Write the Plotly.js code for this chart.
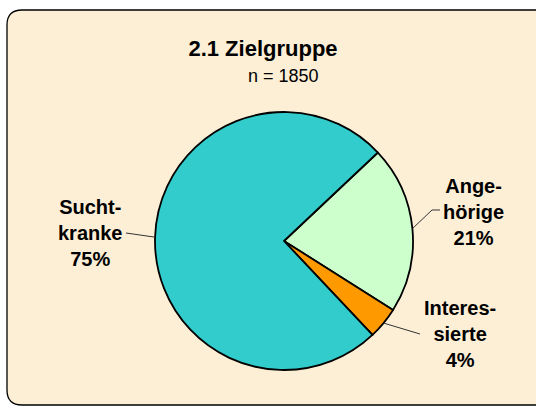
<!DOCTYPE html>
<html>
<head>
<meta charset="utf-8">
<script src="https://cdn.plot.ly/plotly-3.0.1.min.js"></script>
<style>html,body{margin:0;padding:0;background:#fff;}#chart{width:536px;height:407px;}</style>
</head>
<body>
<div id="chart"></div>
<script>
// Data
var categories = ["Angehörige", "Interessierte", "Suchtkranke"];
var labelTexts = ["Ange-<br>hörige", "Interes-<br>sierte", "Sucht-<br>kranke"];
var values = [21, 4, 75];
var colors = ["#CCFFCC", "#FF9900", "#33CCCC"];

var W = 536, H = 407;
var cx = 284, cy = 241, R = 129;
var rotation = 46.7;
function px(x) { return x / W; }
function py(y) { return 1 - y / H; }

// label placement (layout)
var labelPos = [[473, 212], [460, 334], [90, 233]];
var leaderEnds = [[[432, 210], [440, 210]], [[420, 334]], [[126, 233]]];

var total = values.reduce(function (a, b) { return a + b; }, 0);
var shapes = [];
// rounded frame
var L = 7, T = 10, Rt = 560, B = 405, r = 15;
shapes.push({
  type: "path", xref: "paper", yref: "paper", layer: "below",
  path: "M " + px(L + r) + "," + py(T) + " L " + px(Rt - r) + "," + py(T) +
    " Q " + px(Rt) + "," + py(T) + " " + px(Rt) + "," + py(T + r) +
    " L " + px(Rt) + "," + py(B - r) +
    " Q " + px(Rt) + "," + py(B) + " " + px(Rt - r) + "," + py(B) +
    " L " + px(L + r) + "," + py(B) +
    " Q " + px(L) + "," + py(B) + " " + px(L) + "," + py(B - r) +
    " L " + px(L) + "," + py(T + r) +
    " Q " + px(L) + "," + py(T) + " " + px(L + r) + "," + py(T) + " Z",
  fillcolor: "#FCEFD6", line: { color: "#000", width: 1.3 }
});

var annotations = [];
var cum = 0;
for (var i = 0; i < values.length; i++) {
  var mid = rotation + (cum + values[i] / 2) / total * 360;
  cum += values[i];
  var a = mid * Math.PI / 180;
  var sx = cx + R * Math.sin(a), sy = cy - R * Math.cos(a);
  var p = "M " + px(sx) + "," + py(sy);
  leaderEnds[i].forEach(function (pt) { p += " L " + px(pt[0]) + "," + py(pt[1]); });
  shapes.push({ type: "path", xref: "paper", yref: "paper", path: p, line: { color: "#333", width: 1 } });
  var pct = Math.round(values[i] / total * 100);
  annotations.push({
    xref: "paper", yref: "paper", x: px(labelPos[i][0]), y: py(labelPos[i][1]),
    xanchor: "center", yanchor: "middle", showarrow: false, align: "center",
    text: "<b>" + labelTexts[i] + "<br>" + pct + "%</b>",
    font: { family: "Arial, 'Liberation Sans', sans-serif", size: 20, color: "#000" }
  });
}
annotations.push({
  xref: "paper", yref: "paper", x: px(283), y: py(76), xanchor: "center", yanchor: "middle",
  showarrow: false, text: "n = 1850",
  font: { family: "Arial, 'Liberation Sans', sans-serif", size: 18, color: "#000" }
});

var trace = {
  type: "pie", labels: categories, values: values, sort: false, direction: "clockwise",
  rotation: rotation, textinfo: "none", hoverinfo: "label+percent",
  marker: { colors: colors, line: { color: "#000", width: 1.8 } },
  domain: { x: [px(cx - R), px(cx + R)], y: [py(cy + R), py(cy - R)] },
  showlegend: false
};

var layout = {
  width: W, height: H, margin: { l: 0, r: 0, t: 0, b: 0 },
  paper_bgcolor: "#fff", showlegend: false,
  title: {
    text: "<b>2.1 Zielgruppe</b>", x: px(263) + 0.0, xref: "paper", xanchor: "center",
    y: py(48), yref: "paper", yanchor: "middle",
    font: { family: "Arial, 'Liberation Sans', sans-serif", size: 22, color: "#000" }
  },
  shapes: shapes, annotations: annotations
};
layout.title.x = px(263);
Plotly.newPlot("chart", [trace], layout, { displayModeBar: false, staticPlot: true });
</script>
</body>
</html>
